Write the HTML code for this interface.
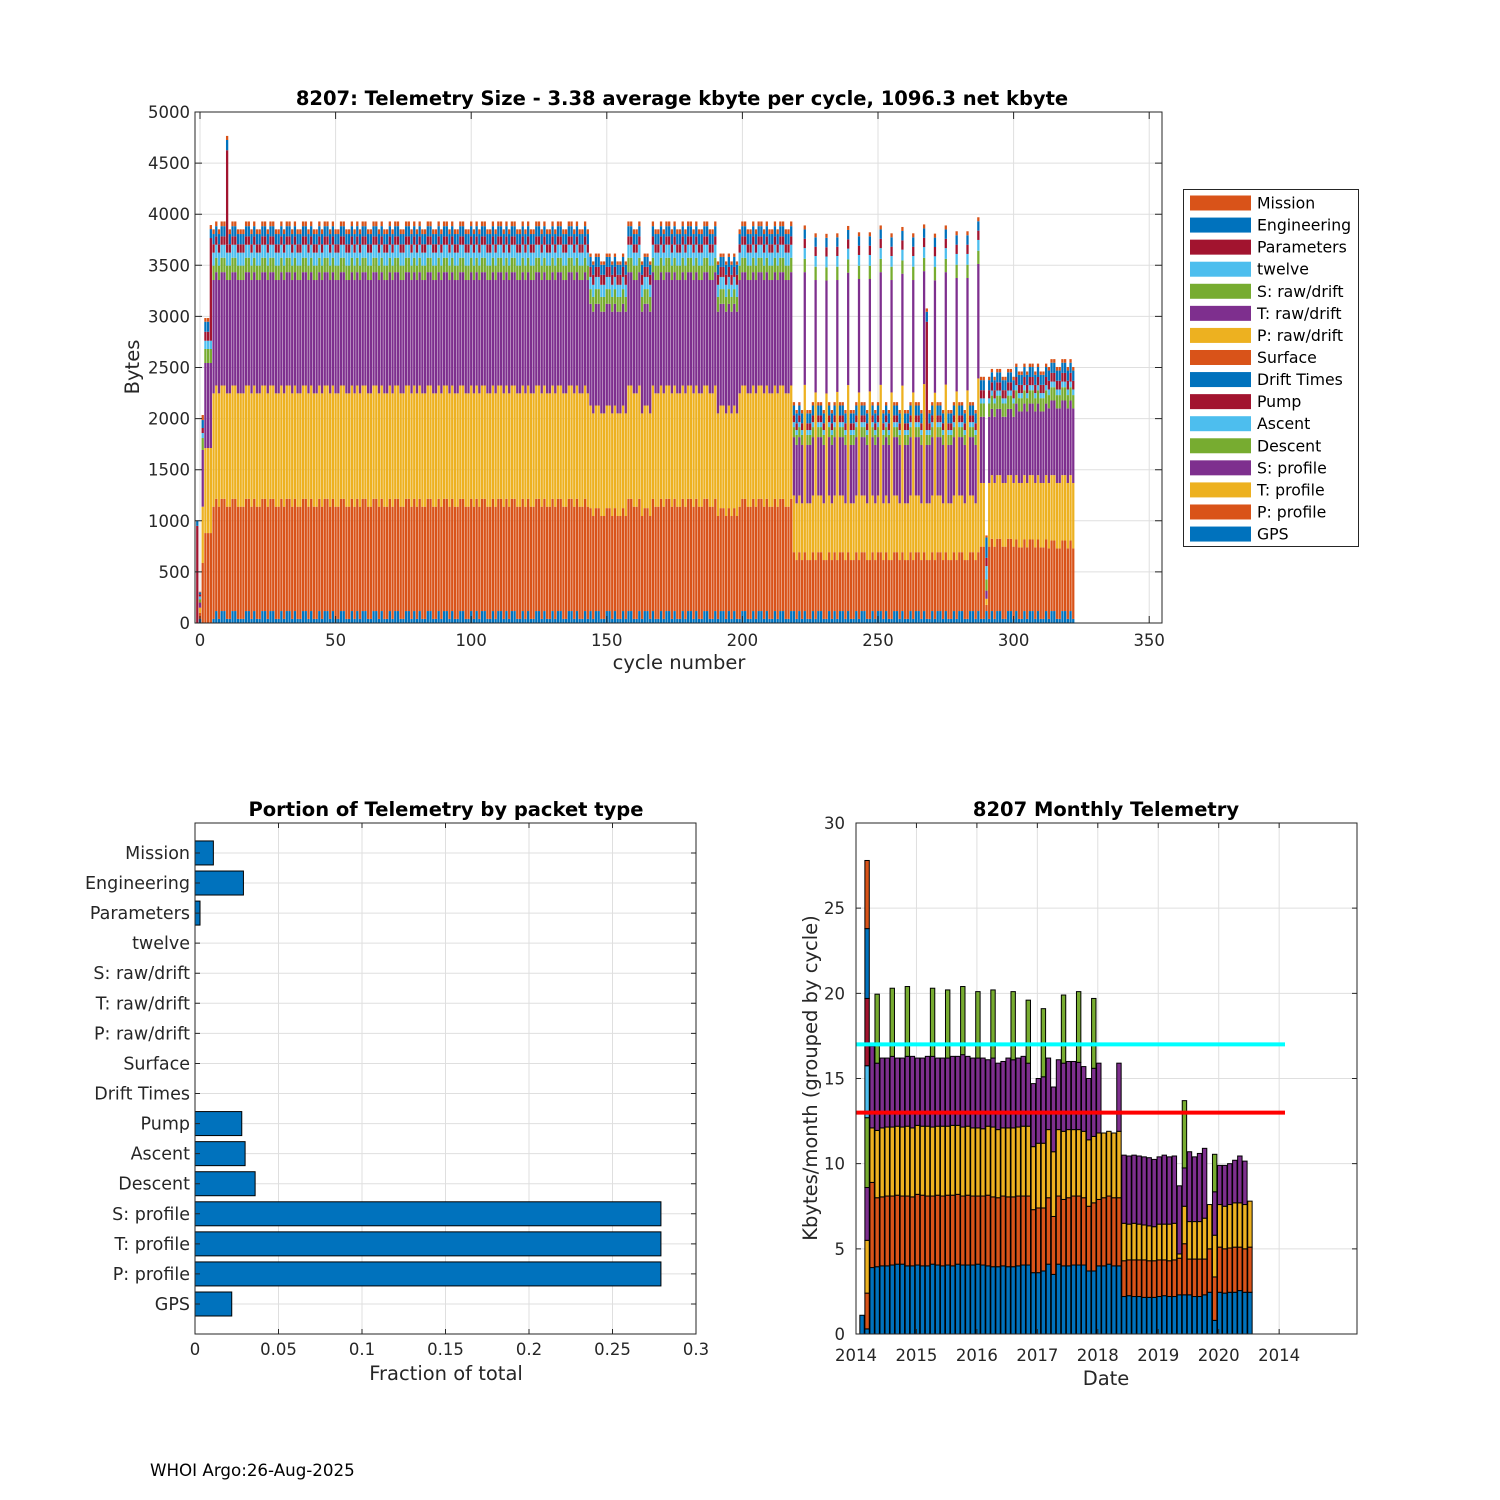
<!DOCTYPE html>
<html><head><meta charset="utf-8"><style>
html,body{margin:0;padding:0;background:#fff;}
svg{display:block;font-family:"DejaVu Sans","Liberation Sans",sans-serif;}
</style></head><body>
<svg id="chart" width="1500" height="1500" viewBox="0 0 1500 1500" xmlns="http://www.w3.org/2000/svg">
<rect x="0" y="0" width="1500" height="1500" fill="#fff"/>
</svg>
<script>
// ---------- TOP CHART DATA ----------
const layerNames=['GPS','P: profile','T: profile','S: profile','Descent','Ascent','Pump','Drift Times','Surface','P: raw/drift','T: raw/drift','S: raw/drift','twelve','Parameters','Engineering','Mission'];
// run fields: [firstCycle,lastCycle, GPS,P:profile,T:profile,S:profile,Descent,Ascent,Pump,Engineering,Mission,Parameters]
const cycleRuns=[
[-1,-1,0,0,0,0,0,0,950,50,0,0],
[0,0,40,60,50,50,30,30,20,20,6,0],
[1,1,0,587,551,555,117,49,49,78,49,0],
[2,3,0,880,832,832,137,81,88,98,36,0],
[4,4,0,880,832,832,137,81,1005,88,39,0],
[5,9,40,1098,1109,1109,141,127,82,100,46,0],
[10,10,40,1098,1109,1109,141,127,82,100,40,920],
[11,143,40,1098,1109,1109,141,127,82,100,46,0],
[144,157,40,1007,1004,995,144,119,98,98,33,0],
[158,162,40,1098,1109,1109,141,127,82,100,46,0],
[163,166,40,1007,1004,995,144,119,98,98,33,0],
[167,190,40,1098,1109,1109,141,127,82,100,46,0],
[191,198,40,1007,1004,995,144,119,98,98,33,0],
[199,218,40,1098,1109,1109,141,127,82,100,46,0],
[219,287,40,576,555,571,98,48,66,97,33,0],
[288,289,40,707,623,648,130,50,80,98,33,0],
[290,290,40,60,60,80,110,130,80,200,20,0],
[291,300,40,707,623,648,130,50,80,98,33,0],
[301,312,40,700,630,700,130,50,80,98,33,0],
[313,322,40,690,640,730,130,55,85,100,35,0]
];
const spikeCycles=[223,227,231,235,239,243,247,251,255,259,263,267,271,275,279,283,287];
const spikeTProfile=[1637,1640,1630,1645,1635,1640,1650,1637,1640,1630,1640,1645,1637,1640,1650,1660,1700];
const spikeSProfile=[1103,1100,1105,1095,1100,1110,1100,1103,1100,1095,1100,1105,1100,1100,1110,1100,1120];
const pumpSpikeCycles=[268];
const pumpSpikeExtra=[994];
// 1 = GPS packet larger (+77 bytes), cycles 5..322
const gpsHighFlags="0101100110001101001101100101101001101001011010011001010110011010010110011010100110010110100110010101"+
"1001011010110010100110100101100110100101011001101001011001011010010110100101101001100101101010011001"+
"0110100101100110101001011001010110100101100101101001101001011010010110100101100110100101011001101001"+
"011010010110011010";
const gpsHighExtra=77;

// ---------- BOTTOM-LEFT DATA ----------
const fractionCategories=['GPS','P: profile','T: profile','S: profile','Descent','Ascent','Pump','Drift Times','Surface','P: raw/drift','T: raw/drift','S: raw/drift','twelve','Parameters','Engineering','Mission'];
const fractionValues=[0.022,0.279,0.279,0.279,0.036,0.030,0.028,0,0,0,0,0,0,0.003,0.029,0.011];
const fractionTicks=[0,0.05,0.1,0.15,0.2,0.25,0.3];

// ---------- BOTTOM-RIGHT DATA (months since Jan 2014, cumulative kbytes) ----------
const monthBlueTop=[1.1,0.3,3.9,3.95,
4.0,4.0,4.05,4.1,4.1,4.0,4.0,4.05,4.0,4.0,4.1,4.05,4.0,4.05,4.0,4.1,4.05,4.05,4.05,4.1,4.05,4.0,3.95,3.95,4.0,3.95,3.95,4.0,
4.05,4.05,3.6,3.6,3.7,4.1,3.5,4.1,4.0,4.0,4.05,4.05,4.05,3.7,3.7,4.0,4.0,4.1,4.0,4.0,
2.2,2.25,2.2,2.2,2.15,2.15,2.15,2.2,2.25,2.2,2.2,2.3,2.3,2.3,2.2,2.2,2.3,2.45,0.8,2.45,2.4,2.45,2.45,2.55,2.45,2.45];
const monthOrangeTop=[1.1,2.4,8.9,8.0,
8.05,8.1,8.1,8.15,8.1,8.1,8.05,8.2,8.15,8.1,8.1,8.15,8.1,8.15,8.15,8.2,8.1,8.15,8.1,8.1,8.1,8.15,8.05,8.0,8.1,8.05,8.05,8.1,
8.1,8.1,7.3,7.4,7.4,8.0,6.9,8.1,7.9,8.0,8.1,8.1,8.0,7.5,7.7,7.9,8.0,8.1,8.0,8.0,
4.3,4.35,4.35,4.35,4.35,4.3,4.3,4.35,4.35,4.3,4.35,4.45,5.3,4.4,4.4,4.4,4.4,5.0,3.35,5.1,5.0,5.05,5.1,5.1,5.0,5.1];
const monthYellowTop=[1.1,5.5,12.1,11.95,
12.1,12.15,12.15,12.2,12.15,12.2,12.1,12.25,12.2,12.2,12.15,12.2,12.2,12.2,12.25,12.25,12.15,12.2,12.1,12.1,12.05,12.2,12.15,12.0,12.1,12.1,12.1,12.15,
12.2,12.2,11.0,11.2,11.2,12.0,10.7,12.0,11.9,12.0,12.0,12.0,11.9,11.4,11.6,11.8,11.8,11.9,11.8,11.9,
6.5,6.45,6.5,6.45,6.4,6.35,6.3,6.45,6.45,6.45,6.5,4.7,7.5,6.6,6.6,6.6,6.8,7.6,5.8,7.6,7.5,7.6,7.7,7.7,7.6,7.8];
const monthPurpleTop=[1.1,8.6,16.9,15.9,
16.2,16.2,16.3,16.2,16.2,16.3,16.3,16.2,16.2,16.3,16.3,16.2,16.2,16.2,16.3,16.3,16.4,16.3,16.2,16.2,16.2,16.1,16.2,15.9,16.0,16.2,16.1,16.2,
16.3,15.9,14.7,15.0,15.1,16.2,14.5,16.1,15.9,16.0,16.0,15.95,15.7,15.0,15.6,15.9,11.8,11.9,11.8,15.9,
10.5,10.45,10.5,10.45,10.4,10.35,10.25,10.4,10.5,10.4,10.45,8.7,9.75,10.7,10.4,10.6,10.9,7.6,8.35,9.9,9.9,10.0,10.2,10.45,10.15,7.8];
const greenMonths=[2,4,7,10,15,18,21,24,27,31,34,37,41,44,47,65,71];
const greenTops=[12.7,19.95,20.3,20.4,20.3,20.2,20.4,20.1,20.2,20.1,19.6,19.1,19.9,20.1,19.7,13.7,10.55];
const month2ExtraTops=[15.75,19.7,23.8,27.8];
const cyanLevel=17;
const redLevel=13;
const monthYTicks=[0,5,10,15,20,25,30];
const yearTickLabels=['2014','2015','2016','2017','2018','2019','2020','2014'];

// ---------- DRAWING ----------
const NS='http://www.w3.org/2000/svg';
const svg=document.getElementById('chart');
const C={blue:'#0072BD',orange:'#D95319',yellow:'#EDB120',purple:'#7E2F8E',green:'#77AC30',lb:'#4DBEEE',red:'#A2142F'};
const layerColors=[C.blue,C.orange,C.yellow,C.purple,C.green,C.lb,C.red,C.blue,C.orange,C.yellow,C.purple,C.green,C.lb,C.red,C.blue,C.orange];
function mk(tag,attrs,parent){const e=document.createElementNS(NS,tag);for(const k in attrs)e.setAttribute(k,attrs[k]);(parent||svg).appendChild(e);return e;}
function txt(str,attrs){const t=mk('text',attrs);t.textContent=str;return t;}
const AX='#262626', GRID='#dfdfdf';
const TITLE_FS=19.5, LABEL_FS=19.5, TICK_FS=16.5;

// ===== TOP CHART =====
const T={l:195,r:1162,t:112,b:623};
function xT(c){return 200+c*2.712;}
function yT(v){return T.b-v*(T.b-T.t)/5000;}
const gTop=mk('g',{});


for(let v=0;v<=5000;v+=500){
  const gl=mk('line',{x1:T.l,x2:T.r,y1:yT(v),y2:yT(v),stroke:GRID,'stroke-width':1},gTop);
  
  
}
for(let c=0;c<=350;c+=50){
  const gl=mk('line',{x1:xT(c),x2:xT(c),y1:T.t,y2:T.b,stroke:GRID,'stroke-width':1},gTop);
  
  
}
function cycleLayers(c){
  let run=null;for(const r of cycleRuns){if(c>=r[0]&&c<=r[1]){run=r;break;}}
  if(!run)return null;
  const L=new Array(16).fill(0);
  L[0]=run[2];L[1]=run[3];L[2]=run[4];L[3]=run[5];L[4]=run[6];L[5]=run[7];L[6]=run[8];L[14]=run[9];L[15]=run[10];L[13]=run[11];
  const si=spikeCycles.indexOf(c);
  if(si>=0){L[2]=spikeTProfile[si];L[3]=spikeSProfile[si];L[4]=130;L[5]=105;L[6]=91;L[14]=92;L[15]=39;}
  const pi=pumpSpikeCycles.indexOf(c);
  if(pi>=0){L[6]+=pumpSpikeExtra[pi];}
  if(c>=5&&gpsHighFlags.charAt(c-5)==='1'){L[0]+=gpsHighExtra;}
  return L;
}
const bw=2.712*0.84;
for(let c=-1;c<=322;c++){
  const L=cycleLayers(c);if(!L)continue;
  let base=0;
  for(let k=0;k<16;k++){
    const v=L[k];if(v<=0)continue;
    const y1=yT(base+v),y0=yT(base);
    const r=mk('rect',{x:xT(c)-bw/2,y:y1,width:bw,height:y0-y1,fill:layerColors[k]},gTop);
    
    
    base+=v;
  }
}
const topBox=mk('rect',{x:T.l,y:T.t,width:T.r-T.l,height:T.b-T.t,fill:'none',stroke:AX,'stroke-width':1},gTop);


for(let v=0;v<=5000;v+=500){
  const tk=mk('path',{d:`M${T.l},${yT(v)}h7M${T.r},${yT(v)}h-7`,stroke:AX,'stroke-width':1},gTop);
  
  
  const lb=txt(String(v),{x:190,y:yT(v)+6,'text-anchor':'end','font-size':TICK_FS,fill:AX});
  
  
}
for(let c=0;c<=350;c+=50){
  const tk=mk('path',{d:`M${xT(c)},${T.b}v-7M${xT(c)},${T.t}v7`,stroke:AX,'stroke-width':1},gTop);
  
  
  const lb=txt(String(c),{x:xT(c),y:646,'text-anchor':'middle','font-size':TICK_FS,fill:AX});
  
  
}
let e;
e=txt('8207: Telemetry Size - 3.38 average kbyte per cycle, 1096.3 net kbyte',{x:682,y:105,'text-anchor':'middle','font-size':TITLE_FS,'font-weight':'bold',fill:'#000'});


e=txt('cycle number',{x:679,y:669,'text-anchor':'middle','font-size':LABEL_FS,fill:AX});


e=txt('Bytes',{x:0,y:0,'text-anchor':'middle','font-size':LABEL_FS,fill:AX,transform:'translate(139,367) rotate(-90)'});


const legendOrder=[15,14,13,12,11,10,9,8,7,6,5,4,3,2,1,0];
e=mk('rect',{x:1183.5,y:189.5,width:175,height:357,fill:'#fff',stroke:AX,'stroke-width':1});


legendOrder.forEach((k,i)=>{
  const yc=203+i*22.07;
  const sw=mk('rect',{x:1190,y:yc-7.5,width:61,height:15,fill:layerColors[k]});
  
  
  const lt=txt(layerNames[k],{x:1257,y:yc+5.5,'font-size':15.7,fill:'#000'});
  
  
});

// ===== BOTTOM LEFT =====
const B={l:195,r:696,t:823,b:1334};
function xB(f){return B.l+f*(B.r-B.l)/0.3;}
function yB(i){return 1304-i*30.07;}
for(const f of fractionTicks){
  const gl=mk('line',{x1:xB(f),x2:xB(f),y1:B.t,y2:B.b,stroke:GRID,'stroke-width':1});
  
  
}
fractionCategories.forEach((n,i)=>{
  const gl=mk('line',{x1:B.l,x2:B.r,y1:yB(i),y2:yB(i),stroke:GRID,'stroke-width':1});
  
  
});
fractionValues.forEach((v,i)=>{
  if(v<=0)return;
  const r=mk('rect',{x:xB(0),y:yB(i)-12,width:xB(v)-xB(0),height:24,fill:C.blue,stroke:'#000','stroke-width':1});
  
  
});
e=mk('rect',{x:B.l,y:B.t,width:B.r-B.l,height:B.b-B.t,fill:'none',stroke:AX,'stroke-width':1});


fractionCategories.forEach((n,i)=>{
  const tk=mk('path',{d:`M${B.l},${yB(i)}h5M${B.r},${yB(i)}h-5`,stroke:AX,'stroke-width':1});
  
  
  const lb=txt(n,{x:190,y:yB(i)+6,'text-anchor':'end','font-size':17.5,fill:AX});
  
  
});
fractionTicks.forEach(f=>{
  const tk=mk('path',{d:`M${xB(f)},${B.b}v-5M${xB(f)},${B.t}v5`,stroke:AX,'stroke-width':1});
  
  
  const lb=txt(String(f),{x:xB(f),y:1355,'text-anchor':'middle','font-size':TICK_FS,fill:AX});
  
  
});
e=txt('Portion of Telemetry by packet type',{x:446,y:816,'text-anchor':'middle','font-size':TITLE_FS,'font-weight':'bold',fill:'#000'});


e=txt('Fraction of total',{x:446,y:1380,'text-anchor':'middle','font-size':LABEL_FS,fill:AX});



// ===== BOTTOM RIGHT =====
const M={l:856,r:1357,t:823,b:1334};
function xYear(yr){return M.l+(yr-2014)*60.45;}
function xMonth(m){return xYear(2014+(m+0.2)/12);}
function yM(v){return M.b-v*(M.b-M.t)/30;}
for(const v of monthYTicks){
  const gl=mk('line',{x1:M.l,x2:M.r,y1:yM(v),y2:yM(v),stroke:GRID,'stroke-width':1});
  
  
}
yearTickLabels.forEach((s,i)=>{
  const gl=mk('line',{x1:xYear(2014+i),x2:xYear(2014+i),y1:M.t,y2:M.b,stroke:GRID,'stroke-width':1});
  
  
});
const mbw=4.4;
function mbar(m,lo,hi,col){
  if(hi<=lo)return;
  const r=mk('rect',{x:xMonth(m)-mbw/2,y:yM(hi),width:mbw,height:yM(lo)-yM(hi),fill:col,stroke:'#000','stroke-width':1});
  
  
}
for(let i=0;i<monthBlueTop.length;i++){
  const m=i+1;
  mbar(m,0,monthBlueTop[i],C.blue);
  mbar(m,monthBlueTop[i],monthOrangeTop[i],C.orange);
  mbar(m,monthOrangeTop[i],monthYellowTop[i],C.yellow);
  mbar(m,monthYellowTop[i],monthPurpleTop[i],C.purple);
  const gi=greenMonths.indexOf(m);
  if(gi>=0)mbar(m,monthPurpleTop[i],greenTops[gi],C.green);
  if(m===2){
    const cols=[C.lb,C.red,C.blue,C.orange];
    let lo=greenTops[gi];
    month2ExtraTops.forEach((t,j)=>{mbar(m,lo,t,cols[j]);lo=t;});
  }
}
e=mk('line',{x1:M.l,x2:1285,y1:yM(cyanLevel),y2:yM(cyanLevel),stroke:'#00FFFF','stroke-width':4});


e=mk('line',{x1:M.l,x2:1285,y1:yM(redLevel),y2:yM(redLevel),stroke:'#FF0000','stroke-width':4});


e=mk('rect',{x:M.l,y:M.t,width:M.r-M.l,height:M.b-M.t,fill:'none',stroke:AX,'stroke-width':1});


for(const v of monthYTicks){
  const tk=mk('path',{d:`M${M.l},${yM(v)}h5M${M.r},${yM(v)}h-5`,stroke:AX,'stroke-width':1});
  
  
  const lb=txt(String(v),{x:845,y:yM(v)+6,'text-anchor':'end','font-size':TICK_FS,fill:AX});
  
  
}
yearTickLabels.forEach((s,i)=>{
  const x=xYear(2014+i);
  const tk=mk('path',{d:`M${x},${M.b}v-5M${x},${M.t}v5`,stroke:AX,'stroke-width':1});
  
  
  const lb=txt(s,{x:x,y:1361,'text-anchor':'middle','font-size':TICK_FS,fill:AX});
  
  
});
e=txt('8207 Monthly Telemetry',{x:1106,y:816,'text-anchor':'middle','font-size':TITLE_FS,'font-weight':'bold',fill:'#000'});


e=txt('Date',{x:1106,y:1385,'text-anchor':'middle','font-size':LABEL_FS,fill:AX});


e=txt('Kbytes/month (grouped by cycle)',{x:0,y:0,'text-anchor':'middle','font-size':LABEL_FS,fill:AX,transform:'translate(817,1078) rotate(-90)'});



e=txt('WHOI Argo:26-Aug-2025',{x:150,y:1476,'font-size':16.7,fill:'#000'});


</script>
</body></html>
